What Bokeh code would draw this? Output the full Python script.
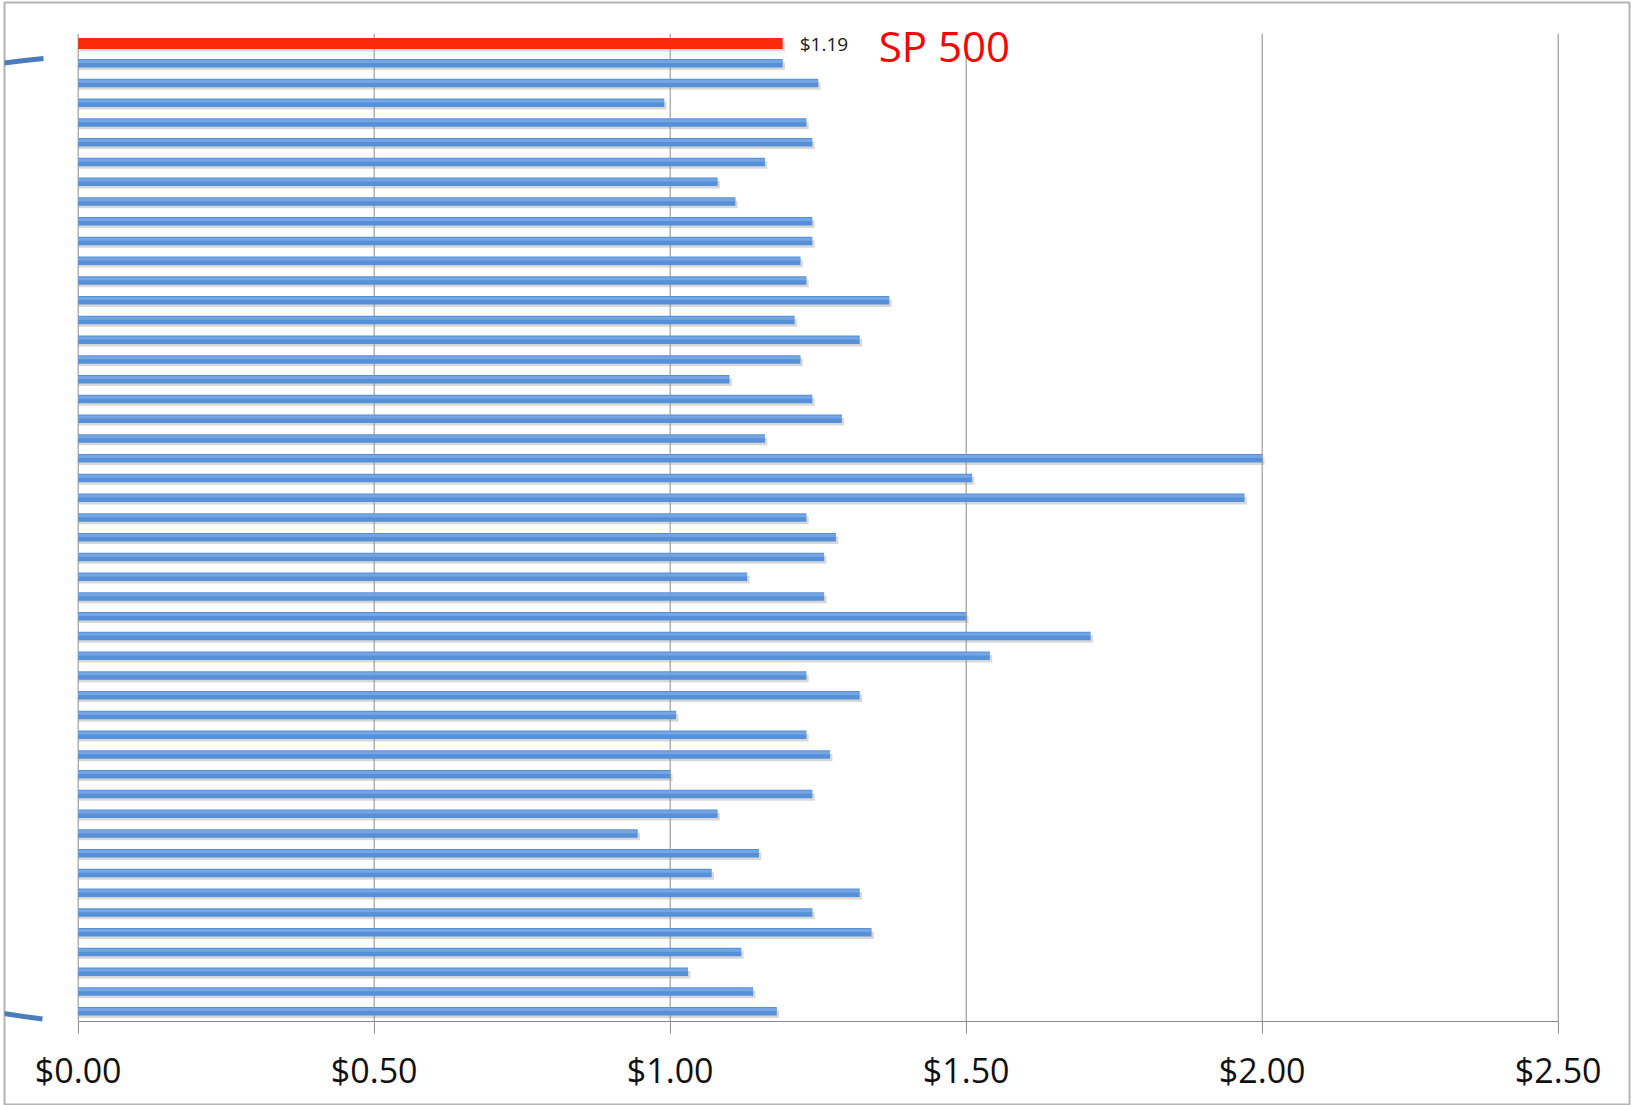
from bokeh.plotting import figure
from bokeh.models import Range1d, LinearAxis, FixedTicker, NumeralTickFormatter
from bokeh.core.properties import value
from bokeh.embed import file_html
from bokeh.resources import INLINE

# ---- data -------------------------------------------------------------
benchmark_label = "SP 500"
benchmark_value = 1.19

fund_values = [
    1.19, 1.25, 0.99, 1.23, 1.24, 1.16, 1.08, 1.11, 1.24, 1.24,
    1.22, 1.23, 1.37, 1.21, 1.32, 1.22, 1.10, 1.24, 1.29, 1.16,
    2.00, 1.51, 1.97, 1.23, 1.28, 1.26, 1.13, 1.26, 1.50, 1.71,
    1.54, 1.23, 1.32, 1.01, 1.23, 1.27, 1.00, 1.24, 1.08, 0.945,
    1.15, 1.07, 1.32, 1.24, 1.34, 1.12, 1.03, 1.14, 1.18,
]

tick_values = [0.0, 0.5, 1.0, 1.5, 2.0, 2.5]

# ---- layout -----------------------------------------------------------
W, H = 1633, 1105
LEFT, RIGHT, TOP, BOTTOM = 4, 4, 2, 1
FRAME_W = W - LEFT - RIGHT
FRAME_H = H - TOP - BOTTOM
X0_PX = 77.7 - LEFT          # where $0 sits inside the frame
PX_PER_DOLLAR = 592.0
ROW0_PX = 43.0 - TOP         # centre of the first row inside the frame
ROW_PX = 19.75               # row pitch

FONT = value("Open Sans")


def px_x(px):
    return (px - LEFT - X0_PX) / PX_PER_DOLLAR


def px_y(py):
    return (py - TOP - ROW0_PX) / ROW_PX


x_range = Range1d(-X0_PX / PX_PER_DOLLAR, (FRAME_W - X0_PX) / PX_PER_DOLLAR)
y_range = Range1d((FRAME_H - ROW0_PX) / ROW_PX, -ROW0_PX / ROW_PX)  # rows run downwards

p = figure(
    width=W, height=H,
    x_range=x_range, y_range=y_range,
    x_axis_type=None, y_axis_type=None,
    output_backend="svg", toolbar_location=None,
    min_border_left=LEFT, min_border_right=RIGHT,
    min_border_top=TOP, min_border_bottom=BOTTOM,
)
p.background_fill_color = "white"
p.border_fill_color = "white"
p.outline_line_color = "#b4b4b4"
p.outline_line_width = 2

n_rows = 1 + len(fund_values)
first_row = -0.5
last_row = n_rows - 0.5

# vertical grid lines (the $0 one doubles as the category axis)
p.segment(x0=tick_values, y0=[first_row] * len(tick_values),
          x1=tick_values, y1=[last_row] * len(tick_values),
          line_color="#8c8c8c", line_width=1)

# ---- bars -------------------------------------------------------------
rows = list(range(1, n_rows))

# soft drop shadow under every bar
p.hbar(y=[r + 0.15 for r in rows], left=0, right=[v + 0.004 for v in fund_values],
       height=0.38, fill_color="#8f8f8f", fill_alpha=0.35, line_color=None)
p.hbar(y=[0.16], left=0, right=[benchmark_value + 0.004],
       height=0.5, fill_color="#9e9e9e", fill_alpha=0.35, line_color=None)

# blue fund bars, body with a slightly lighter upper edge
p.hbar(y=rows, left=0, right=fund_values, height=0.43,
       fill_color="#5590d8", line_color=None)
p.hbar(y=[r - 0.09 for r in rows], left=0, right=fund_values, height=0.16,
       fill_color="#80ace8", fill_alpha=0.75, line_color=None)

# benchmark bar
p.hbar(y=[0], left=0, right=[benchmark_value], height=0.56,
       fill_color="#fb2a0a", line_color=None)

# benchmark labels
p.text(x=[benchmark_value], y=[0], text=[f"${benchmark_value:.2f}"],
       x_offset=17, text_baseline="middle", text_align="left",
       text_font=FONT, text_font_size="19px", text_color="#1a1a1a")
p.text(x=[benchmark_value], y=[0], text=[benchmark_label],
       x_offset=96, y_offset=2, text_baseline="middle", text_align="left",
       text_font=FONT, text_font_size="42px", text_color="#ff0000")

# bracket ends on the left margin
p.quadratic(x0=[px_x(0), px_x(0)], y0=[px_y(63.0), px_y(1012.5)],
            x1=[px_x(43), px_x(42)], y1=[px_y(58.0), px_y(1018.5)],
            cx=[px_x(22), px_x(21)], cy=[px_y(60.0), px_y(1016.0)],
            line_color="#4a7dbb", line_width=5, line_cap="butt")

# ---- value axis -------------------------------------------------------
xaxis = LinearAxis(
    fixed_location=last_row,
    bounds=(tick_values[0], tick_values[-1]),
    ticker=FixedTicker(ticks=tick_values),
    formatter=NumeralTickFormatter(format="$0.00"),
)
xaxis.axis_line_color = "#8c8c8c"
xaxis.major_tick_line_color = "#8c8c8c"
xaxis.major_tick_out = 12
xaxis.major_tick_in = 0
xaxis.minor_tick_out = 0
xaxis.minor_tick_in = 0
xaxis.major_label_standoff = 14
xaxis.major_label_text_font = "Open Sans"
xaxis.major_label_text_font_size = "34px"
xaxis.major_label_text_color = "#111111"
p.add_layout(xaxis, "below")

open("out.html", "w").write(file_html(p, INLINE))
